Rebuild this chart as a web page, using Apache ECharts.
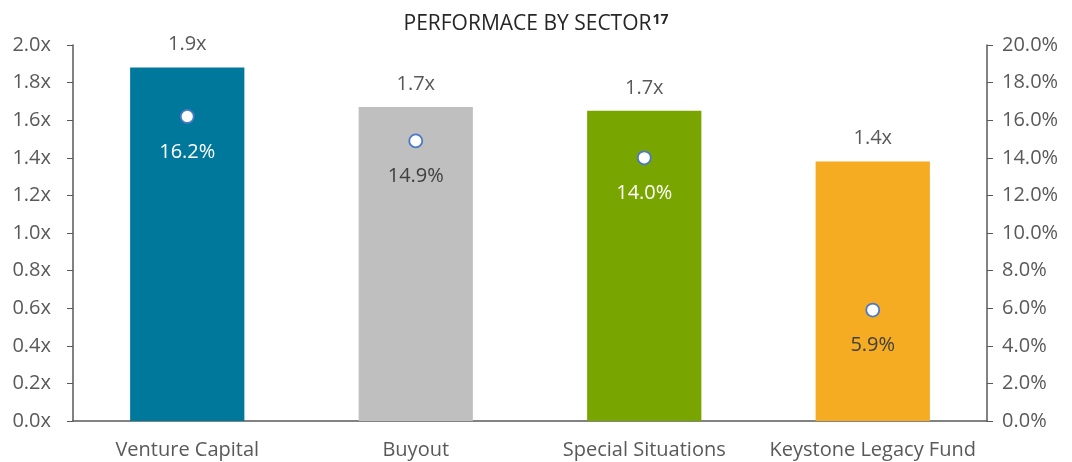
<!DOCTYPE html>
<html lang="en">

<head>
    <meta charset="UTF-8">
    <title>Performace by sector</title>
    <script src="https://cdn.jsdelivr.net/npm/echarts@6/dist/echarts.min.js"></script>
    <style>
        html, body { margin: 0; padding: 0; background: #fff; }
    </style>
</head>

<body>
    <div id="main" style="width: 1072px;height:462px;"></div>

    <script>
        // data
        const sectors = ['Venture Capital', 'Buyout', 'Special Situations', 'Keystone Legacy Fund'];
        const multiples = [1.88, 1.67, 1.65, 1.38];
        const multipleLabels = ['1.9x', '1.7x', '1.7x', '1.4x'];
        const irr = [16.2, 14.9, 14.0, 5.9];
        const barColors = ['#00789b', '#bfbfbf', '#78a500', '#f5ab22'];
        const irrLabelColors = ['#ffffff', '#404040', '#ffffff', '#404040'];

        const txt = '#595959';
        const font = 'Open Sans';

        const myChart = echarts.init(document.getElementById('main'));

        const option = {
            animation: false,
            textStyle: { fontFamily: font },
            title: {
                text: '{t|PERFORMACE BY SECTOR}{s|17}',
                left: 'center',
                top: 8,
                textStyle: {
                    fontWeight: 'normal',
                    rich: {
                        t: { fontFamily: font, fontSize: 21, color: '#262626', fontWeight: 'normal' },
                        s: { fontFamily: font, fontSize: 14, color: '#262626', fontWeight: 'bold', verticalAlign: 'top', padding: [0, 0, 8, 1] }
                    }
                }
            },
            grid: { left: 73, right: 85, top: 45, bottom: 41 },
            xAxis: {
                type: 'category',
                data: sectors,
                axisLine: { lineStyle: { color: txt, width: 1.5 } },
                axisTick: { length: 6, lineStyle: { color: txt } },
                axisLabel: { color: txt, fontSize: 20, margin: 19, interval: 0, fontFamily: font }
            },
            yAxis: [
                {
                    type: 'value', min: 0, max: 2, interval: 0.2,
                    splitLine: { show: false },
                    axisLine: { show: true, lineStyle: { color: txt, width: 1.5 } },
                    axisTick: { show: true, length: 6, lineStyle: { color: txt } },
                    axisLabel: { color: txt, fontSize: 20, margin: 22, formatter: v => v.toFixed(1) + 'x' }
                },
                {
                    type: 'value', min: 0, max: 20, interval: 2,
                    splitLine: { show: false },
                    axisLine: { show: true, lineStyle: { color: txt, width: 1.5 } },
                    axisTick: { show: true, length: 6, lineStyle: { color: txt } },
                    axisLabel: { color: txt, fontSize: 20, margin: 15, formatter: v => v.toFixed(1) + '%' }
                }
            ],
            series: [
                {
                    type: 'bar',
                    barWidth: '50%',
                    data: multiples.map((v, i) => ({ value: v, itemStyle: { color: barColors[i] } })),
                    label: {
                        show: true, position: 'top', distance: 13,
                        color: txt, fontSize: 20,
                        formatter: p => multipleLabels[p.dataIndex]
                    }
                },
                {
                    type: 'scatter',
                    yAxisIndex: 1,
                    symbol: 'circle',
                    symbolSize: 13,
                    itemStyle: { color: '#ffffff', borderColor: '#4a7ac6', borderWidth: 1.8, opacity: 1 },
                    data: irr.map((v, i) => ({
                        value: v,
                        label: { color: irrLabelColors[i] }
                    })),
                    label: {
                        show: true, position: 'bottom', distance: 18,
                        fontSize: 20,
                        formatter: p => p.value.toFixed(1) + '%'
                    }
                }
            ]
        };

        myChart.setOption(option);
    </script>
</body>

</html>
